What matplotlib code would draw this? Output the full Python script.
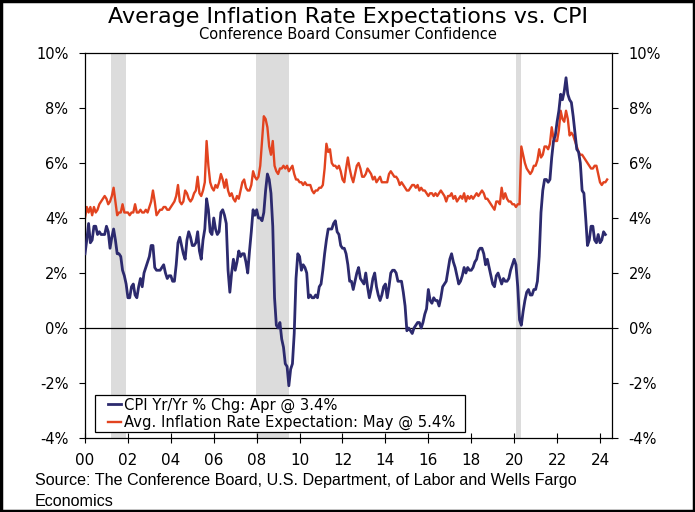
import matplotlib
matplotlib.use("Agg")
import matplotlib.pyplot as plt
import numpy as np
from matplotlib.patches import Rectangle

# CPI year-over-year % change, monthly Jan 2000 - Apr 2024
cpi = [
    2.7, 3.2, 3.8, 3.1, 3.2, 3.7, 3.7, 3.4, 3.5, 3.4, 3.4, 3.4,
    3.7, 3.5, 2.9, 3.3, 3.6, 3.2, 2.7, 2.7, 2.6, 2.1, 1.9, 1.6,
    1.1, 1.1, 1.5, 1.6, 1.2, 1.1, 1.5, 1.8, 1.5, 2.0, 2.2, 2.4,
    2.6, 3.0, 3.0, 2.2, 2.1, 2.1, 2.1, 2.2, 2.3, 2.0, 1.8, 1.9,
    1.9, 1.7, 1.7, 2.3, 3.1, 3.3, 3.0, 2.7, 2.5, 3.2, 3.5, 3.3,
    3.0, 3.0, 3.1, 3.5, 2.8, 2.5, 3.2, 3.6, 4.7, 4.3, 3.5, 3.4,
    4.0, 3.6, 3.4, 3.5, 4.2, 4.3, 4.1, 3.8, 2.1, 1.3, 2.0, 2.5,
    2.1, 2.4, 2.8, 2.6, 2.7, 2.7, 2.4, 2.0, 2.8, 3.5, 4.3, 4.1,
    4.3, 4.0, 4.0, 3.9, 4.2, 5.0, 5.6, 5.4, 4.9, 3.7, 1.1, 0.1,
    0.0, 0.2, -0.4, -0.7, -1.3, -1.4, -2.1, -1.5, -1.3, -0.2, 1.8, 2.7,
    2.6, 2.1, 2.3, 2.2, 2.0, 1.1, 1.2, 1.1, 1.1, 1.2, 1.1, 1.5,
    1.6, 2.1, 2.7, 3.2, 3.6, 3.6, 3.6, 3.8, 3.9, 3.5, 3.4, 3.0,
    2.9, 2.9, 2.7, 2.3, 1.7, 1.7, 1.4, 1.7, 2.0, 2.2, 1.8, 1.7,
    1.6, 2.0, 1.5, 1.1, 1.4, 1.8, 2.0, 1.5, 1.2, 1.0, 1.2, 1.5,
    1.6, 1.1, 1.5, 2.0, 2.1, 2.1, 2.0, 1.7, 1.7, 1.7, 1.3, 0.8,
    -0.1, 0.0, -0.1, -0.2, 0.0, 0.1, 0.2, 0.2, 0.0, 0.2, 0.5, 0.7,
    1.4, 1.0, 0.9, 1.1, 1.0, 1.0, 0.8, 1.1, 1.5, 1.6, 1.7, 2.1,
    2.5, 2.7, 2.4, 2.2, 1.9, 1.6, 1.7, 1.9, 2.2, 2.0, 2.2, 2.1,
    2.1, 2.2, 2.4, 2.5, 2.8, 2.9, 2.9, 2.7, 2.3, 2.5, 2.2, 1.9,
    1.6, 1.5, 1.9, 2.0, 1.8, 1.6, 1.8, 1.7, 1.7, 1.8, 2.1, 2.3,
    2.5, 2.3, 1.5, 0.3, 0.1, 0.6, 1.0, 1.3, 1.4, 1.2, 1.2, 1.4,
    1.4, 1.7, 2.6, 4.2, 5.0, 5.4, 5.4, 5.3, 5.4, 6.2, 6.8, 7.0,
    7.5, 7.9, 8.5, 8.3, 8.6, 9.1, 8.5, 8.3, 8.2, 7.7, 7.1, 6.5,
    6.4, 6.0, 5.0, 4.9, 4.0, 3.0, 3.2, 3.7, 3.7, 3.2, 3.1, 3.4,
    3.1, 3.2, 3.5, 3.4,
]

# Average 12-month inflation expectation (%), monthly Jan 2000 - May 2024
expect = [
    4.0, 4.4, 4.2, 4.4, 4.1, 4.4, 4.2, 4.3, 4.5, 4.6, 4.7, 4.8,
    4.7, 4.5, 4.6, 4.8, 5.1, 4.6, 4.1, 4.2, 4.2, 4.5, 4.2, 4.2,
    4.2, 4.1, 4.2, 4.2, 4.5, 4.2, 4.2, 4.3, 4.2, 4.2, 4.3, 4.2,
    4.4, 4.6, 5.0, 4.6, 4.1, 4.2, 4.3, 4.3, 4.4, 4.4, 4.3, 4.3,
    4.4, 4.5, 4.6, 4.8, 5.2, 4.6, 4.5, 4.6, 5.0, 4.9, 4.7, 4.6,
    4.7, 4.9, 5.0, 5.5, 4.9, 4.8, 5.0, 5.3, 6.8, 5.9, 5.3, 5.1,
    5.0, 5.2, 5.1, 5.3, 5.6, 5.4, 5.1, 5.4, 5.0, 4.8, 4.9, 4.7,
    4.6, 4.8, 4.7, 5.0, 5.3, 5.4, 5.1, 5.0, 5.0, 5.2, 5.7, 5.5,
    5.4, 5.5, 5.9, 6.8, 7.7, 7.6, 7.3, 6.6, 6.3, 6.8, 5.9, 5.7,
    5.6, 5.8, 5.8, 5.9, 5.8, 5.9, 5.7, 5.8, 5.9, 5.6, 5.4, 5.4,
    5.3, 5.3, 5.2, 5.3, 5.2, 5.2, 5.2, 5.0, 4.9, 5.0, 5.0, 5.1,
    5.1, 5.2, 5.8, 6.7, 6.4, 6.5, 6.0, 5.9, 5.9, 5.8, 5.9, 5.7,
    5.4, 5.3, 5.8, 6.2, 5.8, 5.5, 5.3, 5.6, 5.9, 6.0, 5.8, 5.5,
    5.5, 5.6, 5.8, 5.7, 5.6, 5.4, 5.5, 5.3, 5.4, 5.5, 5.3, 5.3,
    5.3, 5.3, 5.6, 5.7, 5.6, 5.5, 5.5, 5.4, 5.2, 5.3, 5.2, 5.1,
    5.0, 5.0, 5.1, 5.2, 5.2, 5.1, 5.2, 5.0, 5.1, 5.0, 5.0, 4.9,
    4.8, 4.9, 4.9, 4.8, 4.9, 4.8, 4.9, 5.0, 4.9, 4.8, 4.6, 4.8,
    4.8, 4.9, 4.7, 4.8, 4.6, 4.7, 4.8, 4.7, 4.9, 4.6, 4.8, 4.7,
    4.8, 4.7, 4.8, 4.9, 4.8, 4.9, 5.0, 4.9, 4.7, 4.7, 4.6, 4.5,
    4.4, 4.3, 4.6, 4.6, 4.5, 5.1, 4.7, 4.9, 4.7, 4.6, 4.6, 4.5,
    4.5, 4.4, 4.5, 4.5, 6.6, 6.3, 6.0, 5.8, 5.7, 5.6, 5.7, 5.9,
    5.9, 6.1, 6.5, 6.2, 6.3, 6.6, 6.6, 6.5, 6.7, 7.3, 6.9, 6.8,
    6.8, 7.2, 7.9, 7.6, 7.5, 7.9, 7.6, 7.0, 7.1, 7.0, 6.8, 6.6,
    6.4, 6.3, 6.3, 6.2, 6.1, 6.0, 5.9, 5.8, 5.8, 5.9, 5.9, 5.6,
    5.3, 5.2, 5.3, 5.3, 5.4,
]

# recession periods (decimal years)
recessions = [(2001.2, 2001.9), (2007.95, 2009.5), (2020.08, 2020.3)]

year_ticks = list(range(2000, 2025, 2))
year_labels = ["%02d" % (y % 100) for y in year_ticks]
pct_ticks = [-4, -2, 0, 2, 4, 6, 8, 10]

navy = "#2C2A6E"
red = "#E2431F"

t_cpi = 2000 + np.arange(len(cpi)) / 12
t_exp = 2000 + np.arange(len(expect)) / 12

fig = plt.figure(figsize=(6.95, 5.12), dpi=100)
ax = fig.add_axes([0.1223, 0.1445, 0.7583, 0.752])

for start, end in recessions:
    ax.axvspan(start, end, color="#DCDCDC", lw=0, zorder=0)

ax.axhline(0, color="black", lw=0.9, zorder=1)
ax.plot(t_cpi, cpi, color=navy, lw=2.0, zorder=3,
        label="CPI Yr/Yr % Chg: Apr @ 3.4%")
ax.plot(t_exp, expect, color=red, lw=1.7, zorder=2,
        label="Avg. Inflation Rate Expectation: May @ 5.4%")

ax.set_xlim(2000, 2024.56)
ax.set_ylim(-4, 10)
ax.set_xticks(year_ticks)
ax.set_xticklabels(year_labels, fontsize=11)
ax.set_yticks(pct_ticks)
ax.set_yticklabels(["%d%%" % v for v in pct_ticks], fontsize=10.5)
ax.tick_params(axis="x", direction="inout", length=7, pad=7)
ax.tick_params(axis="y", direction="out", length=4, right=True,
               labelright=True, pad=8)
for s in ax.spines.values():
    s.set_linewidth(0.9)

# legend box drawn separately so it can be wider than the entries
ax.add_patch(Rectangle((0.019, 0.016), 0.702, 0.095, transform=ax.transAxes,
                       facecolor="white", edgecolor="black", lw=0.9, zorder=4))
leg = ax.legend(loc="lower left", bbox_to_anchor=(0.041, 0.016),
                fontsize=10.6, handlelength=0.9, handletextpad=0.15,
                borderpad=0.1, labelspacing=0.18, borderaxespad=0,
                frameon=False)
leg.set_zorder(5)

fig.text(0.5, 0.966, "Average Inflation Rate Expectations vs. CPI",
         ha="center", va="center", fontsize=16)
fig.text(0.5, 0.933, "Conference Board Consumer Confidence",
         ha="center", va="center", fontsize=10.5)
fig.text(0.05, 0.041,
         "Source: The Conference Board, U.S. Department, of Labor and Wells Fargo\nEconomics",
         ha="left", va="center", fontsize=11.6, family="Liberation Sans",
         linespacing=1.55)

fig.patches.append(Rectangle((0.002, 0.002), 0.996, 0.996, transform=fig.transFigure,
                             fill=False, edgecolor="black", lw=2.5))

fig.savefig("out.png", dpi=100)
